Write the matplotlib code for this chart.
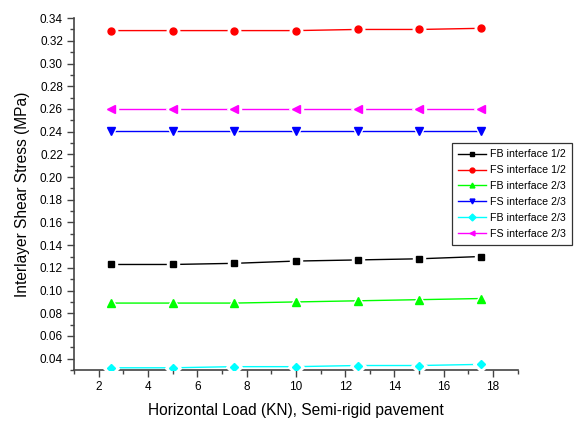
import matplotlib
matplotlib.use("Agg")
import matplotlib.pyplot as plt
from matplotlib.ticker import MultipleLocator

plt.rcParams["font.family"] = ["Liberation Sans", "DejaVu Sans"]

load = [2.5, 5, 7.5, 10, 12.5, 15, 17.5]

fb_12 = [0.123, 0.123, 0.124, 0.126, 0.127, 0.128, 0.130]
fs_12 = [0.329, 0.329, 0.329, 0.329, 0.330, 0.330, 0.331]
fb_23a = [0.089, 0.089, 0.089, 0.090, 0.091, 0.092, 0.093]
fs_23a = [0.241, 0.241, 0.241, 0.241, 0.241, 0.241, 0.241]
fb_23b = [0.032, 0.032, 0.033, 0.033, 0.034, 0.034, 0.035]
fs_23b = [0.260, 0.260, 0.260, 0.260, 0.260, 0.260, 0.260]

series = [
    ("FB interface 1/2", fb_12, "black", "s", 4.5),
    ("FS interface 1/2", fs_12, "red", "o", 5),
    ("FB interface 2/3", fb_23a, "#00ff00", "^", 5.5),
    ("FS interface 2/3", fs_23a, "blue", "v", 5.5),
    ("FB interface 2/3", fb_23b, "cyan", "D", 4.5),
    ("FS interface 2/3", fs_23b, "magenta", "<", 5.5),
]

fig = plt.figure(figsize=(5.74, 4.21), dpi=100)
ax = fig.add_axes([0.129, 0.121, 0.773, 0.836])

for label, vals, color, mk, ms in series:
    ax.plot(load, vals, color=color, lw=1.0, zorder=2)
    # white halo so the line stops short of each marker
    ax.plot(load, vals, ls="none", marker=mk, ms=ms + 4, color="white",
            mec="white", zorder=3)
    ax.plot(load, vals, ls="none", marker=mk, ms=ms, color=color,
            mec=color, zorder=4)

# legend proxies
handles = [
    plt.Line2D([], [], color=c, marker=m, ms=3.5, lw=1.0, label=l)
    for l, _, c, m, _ in series
]
leg = ax.legend(handles=handles, loc="upper left",
                bbox_to_anchor=(0.851, 0.645), fontsize=7.7,
                frameon=True, fancybox=False, edgecolor="black",
                handlelength=2.6, handletextpad=0.4, borderpad=0.6,
                labelspacing=0.55, borderaxespad=0)
leg.get_frame().set_linewidth(0.9)

ax.set_xlim(1, 19)
ax.set_ylim(0.03, 0.34)
ax.xaxis.set_major_locator(MultipleLocator(2))
ax.xaxis.set_minor_locator(MultipleLocator(1))
ax.yaxis.set_major_locator(MultipleLocator(0.02))
ax.yaxis.set_minor_locator(MultipleLocator(0.01))
ax.yaxis.set_major_formatter(plt.FormatStrFormatter("%.2f"))

for s in ["top", "right"]:
    ax.spines[s].set_visible(False)
for s in ["left", "bottom"]:
    ax.spines[s].set_color("#444444")
    ax.spines[s].set_linewidth(1.2)

ax.tick_params(which="major", length=5, width=1, color="#444444",
               labelsize=8.5, pad=3)
ax.tick_params(which="minor", length=3, width=1, color="#444444")

ax.set_xlabel("Horizontal Load (KN), Semi-rigid pavement", fontsize=11.2,
              labelpad=7)
ax.set_ylabel("Interlayer Shear Stress (MPa)", fontsize=11.2, labelpad=7)

fig.savefig("out.png", dpi=100)
